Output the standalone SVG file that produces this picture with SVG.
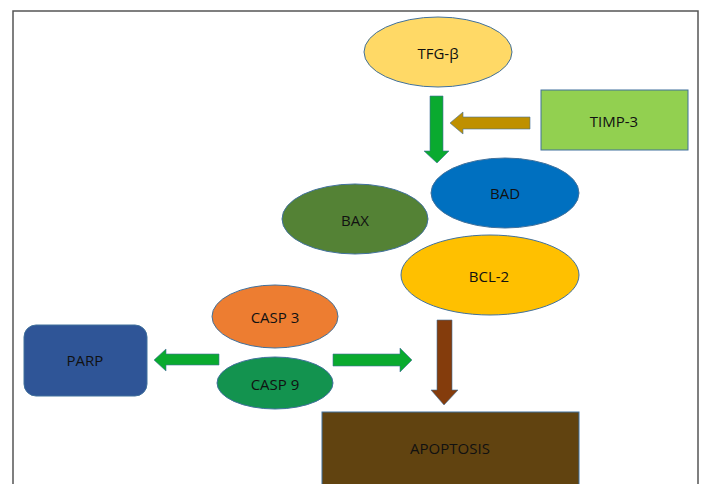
<svg xmlns="http://www.w3.org/2000/svg" width="702" height="484" viewBox="0 0 702 484">
<style>
.n{stroke:#41719C;stroke-width:1}
.t{font-family:"Open Sans","Liberation Sans",sans-serif;font-size:15px;fill:#111;text-anchor:middle;dominant-baseline:central}
.a{stroke:#41719C;stroke-width:0.6}
</style>
<rect x="0" y="0" width="702" height="484" fill="#fff"/>
<rect x="13" y="11" width="685" height="482" fill="none" stroke="#555" stroke-width="1.5"/>
<g id="connectors">
<polygon class="a" fill="#0AAA2F" points="430,96 443,96 443,151 449,151 437,163 424,151 430,151"/>
<polygon class="a" fill="#BF9000" points="530,117 530,129 463,129 463,134 450,123 463,112 463,117"/>
<polygon class="a" fill="#0AAA2F" points="219,354 219,365 166,365 166,371 154,360 166,349 166,354"/>
<polygon class="a" fill="#0AAA2F" points="333,354 400,354 400,348 412,360 400,372 400,366 333,366"/>
<polygon class="a" fill="#843C0C" points="437,320 452,320 452,390 458,390 444,405 431,390 437,390"/>
</g>
<g id="tfg"><ellipse class="n" cx="438" cy="52" rx="74" ry="35" fill="#FFD966"/><text class="t" x="438" y="53">TFG-β</text></g>
<g id="timp3"><rect class="n" x="541" y="90" width="147" height="60" fill="#92D050"/><text class="t" x="614" y="121">TIMP-3</text></g>
<g id="bad"><ellipse class="n" cx="505" cy="193" rx="74" ry="35" fill="#0070C0"/><text class="t" x="505" y="193">BAD</text></g>
<g id="bax"><ellipse class="n" cx="355" cy="219" rx="73" ry="35" fill="#548235"/><text class="t" x="355" y="220">BAX</text></g>
<g id="bcl2"><ellipse class="n" cx="490" cy="275" rx="89" ry="40" fill="#FFC000"/><text class="t" x="489" y="276">BCL-2</text></g>
<g id="casp3"><ellipse class="n" cx="275" cy="316.5" rx="63" ry="31.5" fill="#ED7D31"/><text class="t" x="275" y="317">CASP 3</text></g>
<g id="casp9"><ellipse class="n" cx="275" cy="383" rx="58" ry="26" fill="#13934F"/><text class="t" x="275" y="384">CASP 9</text></g>
<g id="parp"><rect class="n" x="24" y="325" width="123" height="71" rx="12" fill="#2F5597"/><text class="t" x="85" y="360">PARP</text></g>
<g id="apoptosis"><rect class="n" x="322" y="412" width="257" height="90" fill="#614310"/><text class="t" x="450" y="448">APOPTOSIS</text></g>
</svg>
